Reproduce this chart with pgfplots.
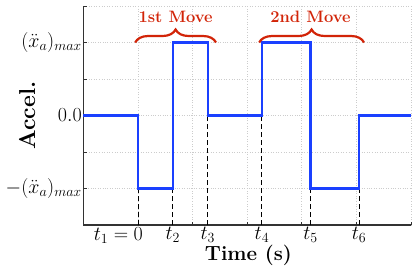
\RequirePackage{fix-cm}
\documentclass[border=0pt]{standalone}
\usepackage{pgfplots}
\pgfplotsset{compat=1.18}
\usetikzlibrary{decorations.pathreplacing}
\definecolor{sigblue}{RGB}{26,64,255}
\definecolor{bracered}{RGB}{210,36,8}
\definecolor{spine}{RGB}{50,50,50}
\begin{document}
\begin{tikzpicture}
\begin{axis}[
  at={(83.3pt,52pt)}, anchor=south west,
  scale only axis, width=327.7pt, height=219pt,
  xmin=-1, xmax=5, ymin=-1.5, ymax=1.5,
  axis x line*=bottom, axis y line*=left,
  axis line style={-, spine, line width=1.1pt},
  xtick={0,0.64,1.28,2.27,3.16,4.05},
  xticklabels={\makebox[10pt][r]{$t_1=0$},$t_2$,$t_3$,$t_4$,$t_5$,$t_6$},
  minor xtick={-1,0,1,2,3,4,5},
  ytick={-1,0,1},
  yticklabels={$-(\ddot{x}_a)_{max}$,$0.0$,$(\ddot{x}_a)_{max}$},
  minor ytick={-1.5,-0.5,0.5,1.5},
  xmajorgrids=false, xminorgrids=true,
  ymajorgrids=true, yminorgrids=true,
  grid style={dotted, gray!40, line width=0.6pt},
  minor grid style={dotted, gray!40, line width=0.6pt},
  tick align=inside,
  major tick length=3.5pt, minor tick length=3.5pt,
  tick style={spine, line width=0.8pt},
  tick label style={font=\fontsize{20}{24}\selectfont},
  yticklabel style={xshift=2pt},
  xticklabel style={yshift=1pt},
  xlabel={Time (s)}, ylabel={Accel.},
  xlabel style={font=\fontsize{20.5}{24}\selectfont\bfseries, at={(axis description cs:0.504,-0.14)}, anchor=center},
  ylabel style={font=\fontsize{23}{26}\selectfont\bfseries, at={(axis description cs:-0.171,0.5)}, anchor=center},
  clip=false,
]
\addplot[black, line width=0.8pt, dash pattern=on 5pt off 3pt] coordinates {(0,-1.5) (0,-1)};
\addplot[black, line width=0.8pt, dash pattern=on 5pt off 3pt] coordinates {(0.64,-1.5) (0.64,-1)};
\addplot[black, line width=0.8pt, dash pattern=on 5pt off 3pt] coordinates {(1.28,-1.5) (1.28,0)};
\addplot[black, line width=0.8pt, dash pattern=on 5pt off 3pt] coordinates {(2.27,-1.5) (2.27,0)};
\addplot[black, line width=0.8pt, dash pattern=on 5pt off 3pt] coordinates {(3.16,-1.5) (3.16,-1)};
\addplot[black, line width=0.8pt, dash pattern=on 5pt off 3pt] coordinates {(4.05,-1.5) (4.05,-1)};
\addplot[sigblue, line width=2.2pt, line join=miter] coordinates {
  (-1,0) (0,0) (0,-1) (0.64,-1) (0.64,1) (1.28,1) (1.28,0) (2.27,0)
  (2.27,1) (3.16,1) (3.16,-1) (4.05,-1) (4.05,0) (5,0)};
\draw[bracered, line width=2.2pt, decorate, decoration={brace, amplitude=13pt}]
  (axis cs:-0.05,1.0) -- (axis cs:1.43,1.0);
\draw[bracered, line width=2.2pt, decorate, decoration={brace, amplitude=13pt}]
  (axis cs:2.22,1.0) -- (axis cs:4.14,1.0);
\node[bracered, font=\fontsize{16.5}{20}\selectfont\bfseries] at (axis cs:0.69,1.35) {1st Move};
\node[bracered, font=\fontsize{16.5}{20}\selectfont\bfseries] at (axis cs:3.16,1.35) {2nd Move};
\end{axis}
\pgfresetboundingbox
\useasboundingbox (0,0) rectangle (415pt,277pt);
\end{tikzpicture}
\end{document}
